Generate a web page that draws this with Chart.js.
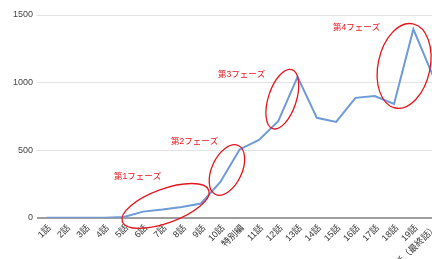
<!DOCTYPE html>
<html>
<head>
<meta charset="utf-8">
<script src="https://cdn.jsdelivr.net/npm/chart.js@4"></script>
<style>
  html, body { margin: 0; padding: 0; background: #fff; overflow: hidden; }
  .wrap { position: absolute; left: 0; top: 0; width: 452px; height: 290px; }
</style>
</head>
<body>
<div class="wrap">
  <canvas id="myChart" width="452" height="290"></canvas>
</div>
<script>
const episodes = ['1話', '2話', '3話', '4話', '5話', '6話', '7話', '8話', '9話', '10話', '特別編',
  '11話', '12話', '13話', '14話', '15話', '16話', '17話', '18話', '19話', '20話（最終話）'];
const counts = [0, 0, 0, 0, 6, 45, 60, 80, 105, 265, 505, 575, 714, 1042, 739, 709, 887, 900, 842, 1395, 1055];
const yTicks = [0, 500, 1000, 1500];

const phaseNames = ['第1フェーズ', '第2フェーズ', '第3フェーズ', '第4フェーズ'];
// where each phase label / circle sits, in axis units (category index, value)
const phaseTextAt = [[3.49, 301], [6.44, 560], [8.88, 1056], [14.84, 1404]];
const phaseRingAt = [[6.16, 87], [9.34, 353], [12.21, 877], [18.52, 1123]];
// ellipse radii (px) and tilt (deg)
const phaseRing = [[46, 17, -20], [15, 27, 25], [14, 31, 18], [26, 43, 12]];

const font = 'Liberation Sans, Arial, "Noto Sans CJK JP", sans-serif';

const phasePlugin = {
  id: 'phases',
  afterDatasetsDraw(chart) {
    const c = chart.ctx, x = chart.scales.x, y = chart.scales.y;
    c.save();
    c.strokeStyle = '#e8141b';
    c.lineWidth = 1.3;
    phaseRingAt.forEach((p, i) => {
      const r = phaseRing[i];
      c.beginPath();
      c.ellipse(x.getPixelForValue(p[0]), y.getPixelForValue(p[1]), r[0], r[1], r[2] * Math.PI / 180, 0, Math.PI * 2);
      c.stroke();
    });
    c.fillStyle = '#e8141b';
    c.font = '8.5px ' + font;
    c.textAlign = 'left';
    c.textBaseline = 'middle';
    phaseTextAt.forEach((p, i) => {
      c.fillText(phaseNames[i], x.getPixelForValue(p[0]), y.getPixelForValue(p[1]));
    });
    c.restore();
  }
};

const ctx = document.getElementById('myChart');

var chart = new Chart(ctx, {
  type: 'line',
  data: {
    labels: episodes,
    datasets: [{
      label: '',
      data: counts,
      fill: false,
      borderColor: '#6d9ad9',
      borderWidth: 2,
      tension: 0,
      pointRadius: 0,
    }]
  },
  options: {
    responsive: false,
    animation: false,
    layout: { padding: { top: 15, right: 9.7, bottom: 0, left: 0 } },
    plugins: {
      legend: { display: false },
      title: { display: false },
      tooltip: { enabled: false }
    },
    scales: {
      x: {
        offset: true,
        grid: { display: false, drawTicks: false },
        border: { display: false },
        ticks: {
          autoSkip: false,
          minRotation: 45,
          maxRotation: 45,
          padding: 5,
          labelOffset: 3,
          color: '#333',
          font: { family: font, size: 9 }
        },
        afterFit(scale) { scale.height = 72.3; }
      },
      y: {
        min: 0,
        max: 1500,
        afterBuildTicks(scale) { scale.ticks = yTicks.map(v => ({ value: v })); },
        grid: {
          drawTicks: false,
          color: c => c.tick && c.tick.value === 0 ? '#9e9e9e' : '#e3e3e3',
          lineWidth: c => c.tick && c.tick.value === 0 ? 2 : 1
        },
        border: { display: false },
        ticks: {
          padding: 4,
          color: '#444',
          font: { family: font, size: 9 },
          callback: v => String(v)
        },
        afterFit(scale) { scale.width = 37; }
      }
    }
  },
  plugins: [phasePlugin]
});
</script>
</body>
</html>
